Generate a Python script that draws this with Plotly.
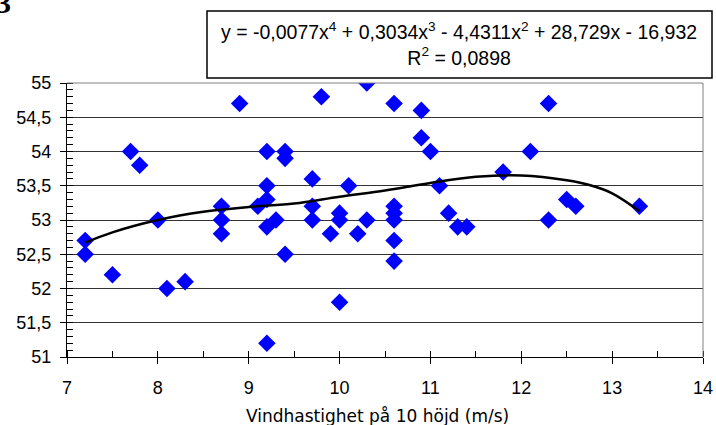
import plotly.graph_objects as go

# Scatter data (wind speed at 10 m height vs value)
wind_x = [7.2, 7.2, 7.5, 7.7, 7.8, 8.0, 8.1, 8.3, 8.7, 8.7, 8.7, 8.9,
          9.1, 9.2, 9.2, 9.2, 9.2, 9.2, 9.3, 9.4, 9.4, 9.4, 9.7, 9.7, 9.7,
          9.8, 9.9, 10.0, 10.0, 10.0, 10.1, 10.2, 10.3, 10.3,
          10.6, 10.6, 10.6, 10.6, 10.6, 10.6, 10.9, 10.9, 11.0, 11.1,
          11.2, 11.3, 11.4, 11.8, 12.1, 12.3, 12.3, 12.5, 12.6, 13.3]
values_y = [52.7, 52.5, 52.2, 54.0, 53.8, 53.0, 52.0, 52.1, 53.2, 53.0, 52.8, 54.7,
            53.2, 54.0, 53.5, 53.3, 52.9, 51.2, 53.0, 54.0, 53.9, 52.5, 53.6, 53.2, 53.0,
            54.8, 52.8, 53.1, 53.0, 51.8, 53.5, 52.8, 55.0, 53.0,
            54.7, 53.2, 53.1, 53.0, 52.7, 52.4, 54.6, 54.2, 54.0, 53.5,
            53.1, 52.9, 52.9, 53.7, 54.0, 54.7, 53.0, 53.3, 53.2, 53.2]

# Trend line points
trend_x = [7.2, 7.5, 8.0, 8.5, 9.0, 9.5, 10.0, 10.5, 11.0, 11.5, 12.0, 12.5, 12.75, 13.0, 13.3]
trend_y = [52.67, 52.82, 53.0, 53.12, 53.19, 53.24, 53.34, 53.43, 53.54, 53.63, 53.65, 53.58, 53.51, 53.39, 53.13]

x_ticks = [7, 8, 9, 10, 11, 12, 13, 14]
y_ticks = [51, 51.5, 52, 52.5, 53, 53.5, 54, 54.5, 55]
y_ticktext = ["51", "51,5", "52", "52,5", "53", "53,5", "54", "54,5", "55"]

equation_text = ("y = -0,0077x<sup>4</sup> + 0,3034x<sup>3</sup> - 4,4311x<sup>2</sup>"
                 " + 28,729x - 16,932<br>R<sup>2</sup> = 0,0898")
x_title = "Vindhastighet på 10 höjd (m/s)"

# Pixel geometry helpers (plot area 67..703 x 83..357)
L, R, T, B = 67, 13, 83, 68
W, H = 716, 425
PW, PH = W - L - R, H - T - B

def px(xp):
    return (xp - L) / PW

def py(yp):
    return (H - B - yp) / PH

fig = go.Figure()
fig.add_trace(go.Scatter(
    x=wind_x, y=values_y, mode="markers",
    marker=dict(symbol="diamond", size=13.5, color="#0000ff", line=dict(width=0)),
    showlegend=False, hoverinfo="x+y"))
fig.add_trace(go.Scatter(
    x=trend_x, y=trend_y, mode="lines",
    line=dict(color="black", width=2.5, shape="spline", smoothing=1.0),
    showlegend=False, hoverinfo="skip"))
# invisible trace so the overlay axes (crossing tick marks) get drawn
fig.add_trace(go.Scatter(x=[None], y=[None], xaxis="x2", yaxis="y2",
                         showlegend=False, hoverinfo="skip"))

font_main = "Liberation Sans, Arial, sans-serif"

fig.update_layout(
    width=W, height=H,
    margin=dict(l=L, r=R, t=T, b=B, autoexpand=False),
    paper_bgcolor="white", plot_bgcolor="white",
    font=dict(family=font_main, size=18, color="black"),
    xaxis=dict(
        range=[7, 14], tickvals=x_ticks, ticks="outside", ticklen=6,
        tickcolor="black", showgrid=False, zeroline=False,
        showline=True, linecolor="black", linewidth=1,
        tickfont=dict(size=18), ticklabelstandoff=8,
        minor=dict(dtick=0.5, tick0=7, ticks="inside", ticklen=6, tickcolor="black", showgrid=False),
    ),
    yaxis=dict(
        range=[51, 55], tickvals=y_ticks, ticktext=y_ticktext, ticks="outside", ticklen=6,
        tickcolor="black", showgrid=True, gridcolor="#333333", gridwidth=1, zeroline=False,
        showline=True, linecolor="black", linewidth=1, tickfont=dict(size=18),
        ticklabelstandoff=5,
        minor=dict(dtick=0.1, tick0=51, ticks="inside", ticklen=6, tickcolor="black", showgrid=False),
    ),
    xaxis2=dict(overlaying="x", anchor="y", side="bottom", range=[7, 14], tickvals=x_ticks,
                ticks="inside", ticklen=6, tickcolor="black", showticklabels=False,
                showgrid=False, zeroline=False, showline=False),
    yaxis2=dict(overlaying="y", anchor="x", side="left", range=[51, 55], tickvals=y_ticks,
                ticks="inside", ticklen=6, tickcolor="black", showticklabels=False,
                showgrid=False, zeroline=False, showline=False),
    shapes=[
        dict(type="line", xref="paper", yref="paper", x0=0, x1=1, y0=1, y1=1,
             line=dict(color="#808080", width=1)),
        dict(type="line", xref="paper", yref="paper", x0=1, x1=1, y0=0, y1=1,
             line=dict(color="#808080", width=1)),
        dict(type="rect", xref="paper", yref="paper",
             x0=px(207), x1=px(712), y0=py(78), y1=py(11),
             line=dict(color="black", width=1.5), fillcolor="white"),
    ],
    annotations=[
        dict(text=equation_text, xref="paper", yref="paper",
             x=px(459), y=py(44.5), xanchor="center", yanchor="middle",
             showarrow=False, align="center", font=dict(size=19.5)),
        dict(text=x_title, xref="paper", yref="paper",
             x=px(377.5), y=py(415.5), xanchor="center", yanchor="middle",
             showarrow=False, font=dict(family="DejaVu Sans, sans-serif", size=17)),
        dict(text="3", xref="paper", yref="paper", x=px(3), y=py(3), xanchor="center",
             yanchor="middle", showarrow=False,
             font=dict(family="Liberation Serif, serif", size=30, weight="bold")),
    ],
)

fig.write_html("out.html", config={"displayModeBar": False},
               post_script="document.body.style.margin='0';document.body.style.padding='0';"
                           "document.body.style.overflow='hidden';")
